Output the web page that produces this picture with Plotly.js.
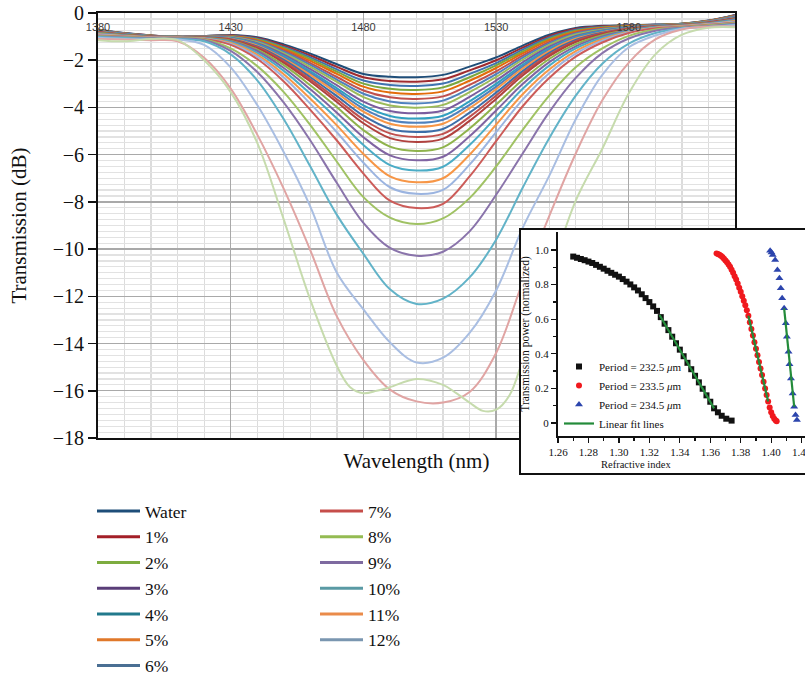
<!DOCTYPE html>
<html>
<head>
<meta charset="utf-8">
<script src="https://cdn.plot.ly/plotly-3.0.1.min.js"></script>
<style>
  html, body { margin: 0; padding: 0; background: #ffffff; overflow: hidden; }
  #chart { width: 805px; height: 678px; }
</style>
</head>
<body>
<div id="chart"></div>
<script>
// ---------- main chart data (wavelength in nm, transmission in dB) ----------
const wavelength = [1380,1390,1400,1410,1420,1430,1440,1450,1460,1470,1480,1490,1500,1510,1520,1530,1540,1550,1560,1570,1580,1590,1600,1610,1620];
const wavelengthDeepest = [1380,1390,1400,1410,1420,1430,1440,1450,1460,1470,1475,1480,1485,1490,1500,1510,1515,1520,1525,1530,1535,1540,1550,1560,1570,1580,1590,1600,1610,1620];

const curve01 = [-0.70,-0.85,-0.95,-1.00,-0.98,-0.93,-1.03,-1.33,-1.72,-2.17,-2.58,-2.70,-2.72,-2.62,-2.27,-1.88,-1.38,-0.92,-0.63,-0.54,-0.52,-0.49,-0.45,-0.32,-0.08];
const curve02 = [-0.71,-0.86,-0.95,-1.00,-0.98,-0.94,-1.06,-1.38,-1.80,-2.28,-2.72,-2.88,-2.91,-2.81,-2.43,-2.00,-1.47,-0.98,-0.67,-0.56,-0.53,-0.50,-0.45,-0.33,-0.09];
const curve03 = [-0.72,-0.86,-0.96,-1.00,-0.99,-0.96,-1.09,-1.44,-1.88,-2.39,-2.86,-3.05,-3.09,-2.99,-2.58,-2.12,-1.55,-1.04,-0.71,-0.59,-0.54,-0.50,-0.46,-0.33,-0.10];
const curve04 = [-0.72,-0.87,-0.96,-1.00,-0.99,-0.97,-1.12,-1.48,-1.95,-2.48,-2.99,-3.21,-3.26,-3.15,-2.72,-2.22,-1.63,-1.10,-0.75,-0.61,-0.55,-0.51,-0.46,-0.34,-0.11];
const curve05 = [-0.73,-0.87,-0.96,-1.01,-1.00,-0.98,-1.15,-1.53,-2.03,-2.58,-3.12,-3.37,-3.43,-3.32,-2.87,-2.33,-1.71,-1.15,-0.79,-0.63,-0.56,-0.51,-0.47,-0.34,-0.12];
const curve06 = [-0.74,-0.88,-0.97,-1.01,-1.00,-1.00,-1.18,-1.59,-2.12,-2.71,-3.28,-3.57,-3.64,-3.53,-3.04,-2.47,-1.81,-1.22,-0.83,-0.66,-0.58,-0.52,-0.47,-0.35,-0.13];
const curve07 = [-0.75,-0.88,-0.97,-1.01,-1.00,-1.01,-1.21,-1.64,-2.20,-2.82,-3.42,-3.75,-3.83,-3.71,-3.20,-2.59,-1.89,-1.29,-0.87,-0.68,-0.59,-0.52,-0.48,-0.36,-0.14];
const curve08 = [-0.76,-0.89,-0.97,-1.01,-1.01,-1.03,-1.24,-1.70,-2.28,-2.92,-3.56,-3.92,-4.01,-3.89,-3.35,-2.71,-1.98,-1.35,-0.91,-0.71,-0.60,-0.53,-0.48,-0.36,-0.16];
const curve09 = [-0.77,-0.89,-0.98,-1.01,-1.01,-1.05,-1.28,-1.76,-2.38,-3.06,-3.75,-4.15,-4.25,-4.13,-3.55,-2.86,-2.09,-1.43,-0.97,-0.74,-0.61,-0.53,-0.49,-0.37,-0.17];
const curve10 = [-0.78,-0.90,-0.98,-1.02,-1.02,-1.06,-1.32,-1.83,-2.47,-3.19,-3.91,-4.36,-4.47,-4.35,-3.74,-3.00,-2.19,-1.50,-1.02,-0.76,-0.62,-0.54,-0.49,-0.38,-0.18];
const curve11 = [-0.79,-0.90,-0.99,-1.02,-1.02,-1.08,-1.35,-1.88,-2.55,-3.29,-4.05,-4.53,-4.65,-4.52,-3.89,-3.12,-2.27,-1.56,-1.06,-0.79,-0.64,-0.55,-0.50,-0.38,-0.19];
const curve12 = [-0.80,-0.91,-0.99,-1.02,-1.03,-1.09,-1.38,-1.93,-2.62,-3.39,-4.18,-4.69,-4.82,-4.69,-4.03,-3.23,-2.35,-1.61,-1.09,-0.81,-0.65,-0.55,-0.50,-0.39,-0.20];
const curve13 = [-0.81,-0.91,-0.99,-1.02,-1.03,-1.11,-1.42,-1.99,-2.72,-3.52,-4.35,-4.90,-5.04,-4.91,-4.22,-3.37,-2.46,-1.69,-1.14,-0.84,-0.66,-0.56,-0.50,-0.40,-0.21];
const curve14 = [-0.81,-0.92,-1.00,-1.02,-1.04,-1.12,-1.45,-2.05,-2.81,-3.65,-4.51,-5.10,-5.25,-5.12,-4.40,-3.50,-2.55,-1.76,-1.19,-0.86,-0.67,-0.56,-0.51,-0.40,-0.23];
const curve15 = [-0.82,-0.92,-1.00,-1.03,-1.04,-1.14,-1.49,-2.11,-2.90,-3.77,-4.67,-5.30,-5.46,-5.32,-4.57,-3.64,-2.65,-1.83,-1.23,-0.89,-0.68,-0.57,-0.51,-0.41,-0.24];
const curve16 = [-0.84,-0.93,-1.01,-1.03,-1.05,-1.17,-1.55,-2.21,-3.06,-3.99,-4.96,-5.66,-5.84,-5.69,-4.89,-3.88,-2.83,-1.95,-1.32,-0.94,-0.71,-0.58,-0.52,-0.42,-0.26];
const curve17 = [-0.86,-0.95,-1.01,-1.03,-1.06,-1.20,-1.61,-2.33,-3.23,-4.22,-5.26,-6.03,-6.24,-6.09,-5.22,-4.13,-3.01,-2.08,-1.41,-0.99,-0.73,-0.59,-0.53,-0.43,-0.28];
const curve18 = [-0.88,-0.96,-1.02,-1.04,-1.07,-1.23,-1.69,-2.45,-3.42,-4.47,-5.59,-6.44,-6.67,-6.51,-5.59,-4.41,-3.21,-2.23,-1.50,-1.05,-0.76,-0.60,-0.54,-0.45,-0.31];
const curve19 = [-0.90,-0.97,-1.03,-1.04,-1.08,-1.27,-1.77,-2.59,-3.63,-4.76,-5.97,-6.92,-7.17,-7.00,-6.00,-4.73,-3.44,-2.39,-1.61,-1.11,-0.79,-0.62,-0.55,-0.47,-0.34];
const curve20 = [-0.92,-0.98,-1.04,-1.05,-1.09,-1.31,-1.85,-2.73,-3.84,-5.05,-6.34,-7.38,-7.66,-7.49,-6.42,-5.05,-3.67,-2.55,-1.72,-1.17,-0.81,-0.63,-0.57,-0.48,-0.37];
const curve21 = [-0.95,-1.00,-1.05,-1.05,-1.10,-1.35,-1.95,-2.90,-4.10,-5.40,-6.80,-7.95,-8.26,-8.08,-6.92,-5.43,-3.95,-2.75,-1.85,-1.25,-0.85,-0.65,-0.58,-0.50,-0.40];
const curve22 = [-0.97,-1.02,-1.06,-1.07,-1.12,-1.50,-2.25,-3.35,-4.75,-6.30,-7.80,-8.67,-8.94,-8.70,-7.84,-6.50,-4.95,-3.50,-2.30,-1.50,-0.97,-0.70,-0.60,-0.52,-0.42];
const curve23 = [-1.00,-1.04,-1.07,-1.08,-1.15,-1.60,-2.50,-3.80,-5.40,-7.20,-8.89,-9.95,-10.28,-10.11,-9.25,-7.70,-5.95,-4.20,-2.75,-1.70,-1.08,-0.75,-0.62,-0.55,-0.45];
const curve24 = [-1.02,-1.06,-1.09,-1.10,-1.20,-1.75,-2.85,-4.50,-6.50,-8.55,-10.20,-11.70,-12.32,-12.10,-11.20,-9.60,-7.40,-5.30,-3.50,-2.15,-1.30,-0.85,-0.65,-0.58,-0.50];
const curve25 = [-1.05,-1.10,-1.12,-1.12,-1.35,-2.30,-3.90,-5.90,-8.20,-11.00,-12.55,-13.95,-14.80,-14.60,-13.55,-11.75,-9.10,-6.90,-4.50,-2.62,-1.45,-0.95,-0.67,-0.60,-0.52];
const curve26 = [-1.10,-1.12,-1.15,-1.20,-1.90,-3.20,-5.15,-7.45,-10.05,-12.85,-14.70,-15.95,-16.45,-16.50,-16.05,-14.40,-11.40,-8.60,-5.95,-3.70,-2.10,-1.12,-0.70,-0.58,-0.57];
const curve27 = [-1.15,-1.20,-1.10,-1.15,-2.00,-3.35,-5.50,-8.75,-12.15,-14.95,-15.85,-16.10,-16.00,-15.85,-15.50,-15.75,-16.10,-16.50,-16.85,-16.80,-16.20,-14.70,-11.20,-7.95,-5.75,-3.40,-1.75,-0.92,-0.62,-0.60];

// ---------- legend of the main chart ----------
const legendLabels = ['Water','1%','2%','3%','4%','5%','6%','7%','8%','9%','10%','11%','12%'];

// ---------- inset data (refractive index vs normalized transmission power) ----------
const ri2325 = [1.2700,1.2725,1.2750,1.2775,1.2800,1.2825,1.2850,1.2875,1.2900,1.2925,1.2950,1.2975,1.3000,1.3025,1.3050,1.3075,1.3100,1.3125,1.3150,1.3175,1.3200,1.3225,1.3250,1.3275,1.3300,1.3325,1.3350,1.3375,1.3400,1.3425,1.3450,1.3475,1.3500,1.3525,1.3550,1.3575,1.3600,1.3625,1.3650,1.3675,1.3705,1.3740];
const tp2325 = [0.962,0.955,0.948,0.941,0.933,0.925,0.914,0.903,0.892,0.880,0.868,0.857,0.846,0.832,0.817,0.801,0.784,0.766,0.744,0.722,0.699,0.674,0.648,0.612,0.574,0.537,0.499,0.461,0.424,0.386,0.348,0.311,0.273,0.235,0.198,0.160,0.123,0.085,0.062,0.042,0.025,0.014];
const ri2335 = [1.3641,1.3650,1.3660,1.3670,1.3680,1.3690,1.3700,1.3710,1.3720,1.3730,1.3740,1.3750,1.3760,1.3770,1.3780,1.3790,1.3800,1.3810,1.3820,1.3830,1.3840,1.3850,1.3860,1.3870,1.3880,1.3890,1.3900,1.3910,1.3920,1.3930,1.3940,1.3950,1.3960,1.3970,1.3980,1.3990,1.4000,1.4010,1.4020,1.4030,1.4036];
const tp2335 = [0.980,0.977,0.972,0.967,0.959,0.950,0.940,0.929,0.916,0.903,0.886,0.868,0.848,0.829,0.806,0.782,0.758,0.733,0.707,0.681,0.652,0.620,0.582,0.544,0.506,0.467,0.429,0.391,0.353,0.315,0.277,0.238,0.200,0.162,0.124,0.090,0.062,0.040,0.024,0.014,0.010];
const ri2345 = [1.3993,1.4002,1.4010,1.4026,1.4041,1.4054,1.4063,1.4072,1.4085,1.4096,1.4103,1.4114,1.4120,1.4130,1.4141,1.4151,1.4160,1.4169];
const tp2345 = [0.996,0.985,0.971,0.942,0.884,0.836,0.779,0.721,0.663,0.576,0.499,0.412,0.340,0.258,0.170,0.094,0.046,0.017];
const fitRi2325 = [1.3267,1.3625];
const fitTp2325 = [0.624,0.085];
const fitRi2335 = [1.3850,1.3980];
const fitTp2335 = [0.620,0.124];
const fitRi2345 = [1.4085,1.4151];
const fitTp2345 = [0.663,0.094];
const insetYTickVals = [0,0.2,0.4,0.6,0.8,1.0];
const insetYTickText = ['0','0.2','0.4','0.6','0.8','1.0'];
const insetYMinorVals = [0.1,0.3,0.5,0.7,0.9];

// ---------- styles ----------
const curveColors = ['#1f4e79','#a02b2f','#3f73b0','#7aa83e','#e36c0a','#c0504d','#4f81bd','#9bbb59','#7a5c9e','#31a0c0',
                     '#4f81bd','#f79646','#3c6ea8','#c0504d','#b0413e','#8fb34c','#8064a2','#4bacc6','#f79646','#9bb4e0',
                     '#cc5c59','#a0c264','#8a74ab','#62b3c8','#a9bee2','#e0a4a3','#c6dbad'];
const legendColors = ['#1e4e79','#a31f27','#7dac3f','#5a3e78','#21798c','#e0782a','#4a6f93','#c64e4a','#94bb52','#7e6aa0','#5a9aa4','#ea8b4a','#7a96b0'];

const curves = [curve01,curve02,curve03,curve04,curve05,curve06,curve07,curve08,curve09,curve10,curve11,curve12,curve13,curve14,
                curve15,curve16,curve17,curve18,curve19,curve20,curve21,curve22,curve23,curve24,curve25,curve26,curve27];

const SERIF = 'Liberation Serif, Times New Roman, serif';
const data = [];

curves.forEach(function (c, i) {
  data.push({
    type: 'scatter', mode: 'lines',
    x: (i === curves.length - 1) ? wavelengthDeepest : wavelength,
    y: c,
    xaxis: 'x', yaxis: 'y',
    line: { color: curveColors[i], width: 2, shape: 'spline', smoothing: 1 },
    showlegend: false, hoverinfo: 'skip'
  });
});

// legend entries (no marks of their own)
legendLabels.forEach(function (lab, i) {
  data.push({
    type: 'scatter', mode: 'lines',
    x: [null], y: [null],
    xaxis: 'x4', yaxis: 'y',
    name: lab,
    line: { color: legendColors[i], width: 3 },
    legend: i < 7 ? 'legend' : 'legend2',
    hoverinfo: 'skip'
  });
});

// inset backdrop subplot
data.push({ type: 'scatter', mode: 'markers', x: [null], y: [null], xaxis: 'x2', yaxis: 'y2', showlegend: false, hoverinfo: 'skip' });

// inset series
data.push({ type: 'scatter', mode: 'markers', x: ri2325, y: tp2325, xaxis: 'x3', yaxis: 'y3',
  name: 'Period = 232.5 <i>μ</i>m', legend: 'legend3',
  marker: { symbol: 'square', size: 6, color: '#111111' }, hoverinfo: 'skip' });
data.push({ type: 'scatter', mode: 'markers', x: ri2335, y: tp2335, xaxis: 'x3', yaxis: 'y3',
  name: 'Period = 233.5 <i>μ</i>m', legend: 'legend3',
  marker: { symbol: 'circle', size: 6, color: '#f0191e' }, hoverinfo: 'skip' });
data.push({ type: 'scatter', mode: 'markers', x: ri2345, y: tp2345, xaxis: 'x3', yaxis: 'y3',
  name: 'Period = 234.5 <i>μ</i>m', legend: 'legend3',
  marker: { symbol: 'triangle-up', size: 7, color: '#2c45ad' }, hoverinfo: 'skip' });
data.push({ type: 'scatter', mode: 'lines', x: fitRi2325, y: fitTp2325, xaxis: 'x3', yaxis: 'y3',
  name: 'Linear fit lines', legend: 'legend3',
  line: { color: '#238b3a', width: 2.2 }, hoverinfo: 'skip' });
data.push({ type: 'scatter', mode: 'lines', x: fitRi2335, y: fitTp2335, xaxis: 'x3', yaxis: 'y3',
  showlegend: false, line: { color: '#238b3a', width: 2.2 }, hoverinfo: 'skip' });
data.push({ type: 'scatter', mode: 'lines', x: fitRi2345, y: fitTp2345, xaxis: 'x3', yaxis: 'y3',
  showlegend: false, line: { color: '#238b3a', width: 2.2 }, hoverinfo: 'skip' });

const W = 805, H = 678;
const px = v => v / W;
const py = v => 1 - v / H;

const layout = {
  width: W, height: H,
  margin: { l: 0, r: 0, t: 0, b: 0, autoexpand: false },
  paper_bgcolor: '#ffffff', plot_bgcolor: '#ffffff',
  font: { family: SERIF, color: '#111111' },
  xaxis: {
    domain: [px(98), px(735)], anchor: 'y',
    range: [1380, 1620], tick0: 1380, dtick: 50,
    showticklabels: false, ticks: '',
    showline: true, mirror: true, linecolor: '#111111', linewidth: 2,
    showgrid: true, gridcolor: '#a9a9a9', gridwidth: 1.3,
    minor: { dtick: 10, showgrid: true, gridcolor: '#dcdcdc', gridwidth: 1.3 },
    zeroline: false,
    title: { text: 'Wavelength (nm)', font: { family: SERIF, size: 21, color: '#111111' }, standoff: 14 }
  },
  xaxis4: {
    overlaying: 'x', side: 'top', anchor: 'y',
    range: [1380, 1620], tick0: 1380, dtick: 50,
    showgrid: false, zeroline: false, showline: false, ticks: '',
    ticklabelposition: 'inside', ticklabeloverflow: 'allow', ticklabelstandoff: 7,
    tickfont: { family: 'Liberation Sans, Arial, sans-serif', size: 11, color: '#3a3a3a' }
  },
  yaxis: {
    domain: [py(438), py(13)], anchor: 'x',
    range: [-18, 0], tick0: 0, dtick: 2,
    ticks: 'outside', ticklen: 8, tickwidth: 1.5, tickcolor: '#111111',
    showline: true, mirror: true, linecolor: '#111111', linewidth: 2,
    showgrid: true, gridcolor: '#a9a9a9', gridwidth: 1.3,
    minor: { dtick: 0.25, showgrid: true, gridcolor: '#e2e2e2', gridwidth: 1.2 },
    zeroline: false,
    tickfont: { family: SERIF, size: 20, color: '#111111' },
    title: { text: 'Transmission (dB)', font: { family: SERIF, size: 21, color: '#111111' }, standoff: 20 }
  },
  xaxis2: {
    domain: [px(521), 1], anchor: 'y2', range: [0, 1],
    showgrid: false, zeroline: false, showticklabels: false, ticks: '',
    showline: true, mirror: true, linecolor: '#111111', linewidth: 2, fixedrange: true
  },
  yaxis2: {
    domain: [py(473), py(230)], anchor: 'x2', range: [0, 1],
    showgrid: false, zeroline: false, showticklabels: false, ticks: '',
    showline: true, mirror: false, linecolor: '#111111', linewidth: 2, fixedrange: true
  },
  xaxis3: {
    domain: [px(558), 1], anchor: 'y3',
    range: [1.26, 1.4222], tick0: 1.26, dtick: 0.02, tickformat: '.2f',
    ticks: 'outside', ticklen: 5, tickwidth: 1.3, tickcolor: '#111111',
    minor: { dtick: 0.01, ticks: 'outside', ticklen: 3, tickcolor: '#111111' },
    showline: true, linecolor: '#111111', linewidth: 2,
    showgrid: false, zeroline: false, ticklabeloverflow: 'allow',
    tickfont: { family: SERIF, size: 11, color: '#111111' }
  },
  yaxis3: {
    domain: [py(436), py(232)], anchor: 'x3',
    range: [-0.075, 1.104],
    tickmode: 'array', tickvals: insetYTickVals, ticktext: insetYTickText,
    ticks: 'outside', ticklen: 5, tickwidth: 1.3, tickcolor: '#111111',
    minor: { tickmode: 'array', tickvals: insetYMinorVals, ticks: 'outside', ticklen: 3, tickcolor: '#111111' },
    showline: true, linecolor: '#111111', linewidth: 2,
    showgrid: false, zeroline: false,
    tickfont: { family: SERIF, size: 11, color: '#111111' },
    title: { text: 'Transmission power (normalized)', font: { family: SERIF, size: 11.5, color: '#111111' }, standoff: 3 }
  },
  legend: {
    x: px(92), y: py(493), xanchor: 'left', yanchor: 'top',
    font: { family: SERIF, size: 17.5, color: '#111111' },
    bgcolor: 'rgba(0,0,0,0)', borderwidth: 0, tracegroupgap: 0, itemwidth: 43
  },
  legend2: {
    x: px(315), y: py(493), xanchor: 'left', yanchor: 'top',
    font: { family: SERIF, size: 17.5, color: '#111111' },
    bgcolor: 'rgba(0,0,0,0)', borderwidth: 0, tracegroupgap: 0, itemwidth: 43
  },
  legend3: {
    x: px(559), y: py(352), xanchor: 'left', yanchor: 'top',
    font: { family: SERIF, size: 11, color: '#111111' },
    bgcolor: 'rgba(0,0,0,0)', borderwidth: 0, tracegroupgap: 0
  },
  annotations: [
    { text: 'Refractive index', xref: 'paper', yref: 'paper', x: px(636), y: py(465),
      xanchor: 'center', yanchor: 'middle', showarrow: false,
      font: { family: SERIF, size: 10.5, color: '#111111' } }
  ]
};

Plotly.newPlot('chart', data, layout, { staticPlot: true, displayModeBar: false });
</script>
</body>
</html>
